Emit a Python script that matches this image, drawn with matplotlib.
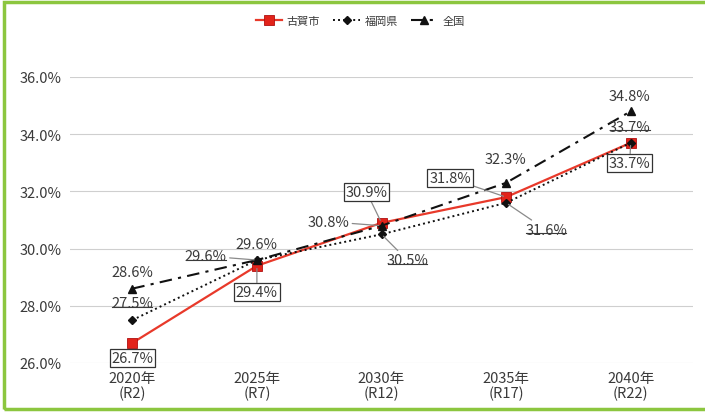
import matplotlib
matplotlib.use("Agg")
import matplotlib.pyplot as plt
from matplotlib.patches import Rectangle
from matplotlib.lines import Line2D
from matplotlib.text import Text

plt.rcParams['font.family'] = ['Noto Sans CJK JP', 'DejaVu Sans']

categories = ["2020年\n(R2)", "2025年\n(R7)", "2030年\n(R12)", "2035年\n(R17)", "2040年\n(R22)"]
koga = [26.7, 29.4, 30.9, 31.8, 33.7]
fukuoka = [27.5, 29.6, 30.5, 31.6, 33.7]
zenkoku = [28.6, 29.6, 30.8, 32.3, 34.8]
series_names = ["古賀市", "福岡県", "全国"]
yticks = [26, 28, 30, 32, 34, 36]

TXT = '#3a3a3a'
FS = 10.5
fig = plt.figure(figsize=(7.05, 4.14), dpi=100)
ax = fig.add_axes([70/705, 50/414, 623/705, 286/414])
x = list(range(len(categories)))

ax.plot(x, koga, color='#e8392a', lw=1.6, marker='s', ms=6.5, mfc='#e2231a',
        mec='#b01010', mew=0.6, label=series_names[0], zorder=3)
ax.plot(x, fukuoka, color='#111111', lw=1.4, ls=(0, (1, 1.6)), marker='D', ms=4.2,
        mfc='#111111', mec='#111111', label=series_names[1], zorder=4)
ax.plot(x, zenkoku, color='#111111', lw=1.5, ls=(0, (6, 3, 1.5, 3)), marker='^', ms=6,
        mfc='#111111', mec='#111111', label=series_names[2], zorder=5)

ax.set_xlim(-0.5, 4.5)
ax.set_ylim(26, 36)
ax.set_yticks(yticks)
ax.set_yticklabels([f"{v:.1f}%" for v in yticks])
ax.set_xticks(x)
ax.set_xticklabels(categories, linespacing=1.05)
ax.tick_params(axis='both', length=0, labelsize=FS, colors=TXT)
ax.tick_params(axis='y', pad=6)
ax.tick_params(axis='x', pad=6)
ax.grid(axis='y', color='#cfcfcf', lw=0.8)
ax.set_axisbelow(True)
for s in ax.spines.values():
    s.set_visible(False)

LEAD = dict(arrowstyle='-', color='#8a8a8a', lw=0.9, shrinkA=0, shrinkB=2)
BOX = dict(boxstyle='square,pad=0.12', fc='white', ec='#333333', lw=0.9)

# offsets in pixels (dx, dy) and whether a leader line is drawn
koga_off = [(0, -15, False), (0, -26, True), (-15, 31, True), (-56, 19, True), (-1, -20, True)]
fuku_off = [(0, 17, False), (-51, 4, True), (26, -26, True), (40, -27, True), (-1, 16, False)]
zen_off = [(0, 17, False), (0, 16, False), (-53, 4, True), (-1, 24, False), (-1, 15, False)]

for i, v in enumerate(koga):
    dx, dy, lead = koga_off[i]
    ax.annotate(f"{v:.1f}%", (i, v), xytext=(dx, dy), textcoords='offset pixels',
                ha='center', va='center', fontsize=FS, color=TXT, bbox=BOX,
                arrowprops=LEAD if lead else None, zorder=6)

under = []
for i, v in enumerate(fukuoka):
    dx, dy, lead = fuku_off[i]
    t = ax.annotate(f"{v:.1f}%", (i, v), xytext=(dx, dy), textcoords='offset pixels',
                    ha='center', va='center', fontsize=FS, color=TXT,
                    arrowprops=LEAD if lead else None, zorder=6)
    under.append(t)

for i, v in enumerate(zenkoku):
    dx, dy, lead = zen_off[i]
    ax.annotate(f"{v:.1f}%", (i, v), xytext=(dx, dy), textcoords='offset pixels',
                ha='center', va='center', fontsize=FS, color=TXT,
                arrowprops=LEAD if lead else None, zorder=6)

leg = fig.legend(loc='center', bbox_to_anchor=(360/705, 1 - 22/414), ncol=3, frameon=False,
                 fontsize=8, handlelength=2.4, columnspacing=1.2, handletextpad=0.4)
for t in leg.get_texts():
    t.set_color(TXT)

fig.canvas.draw()
r = fig.canvas.get_renderer()
for t in under:
    bb = Text.get_window_extent(t, r)
    yb = bb.y0 + 3.5
    fig.add_artist(Line2D([(bb.x0 + 1) / 705, (bb.x1 - 1) / 705], [yb / 414, yb / 414],
                          transform=fig.transFigure, color=TXT, lw=0.8))

fig.add_artist(Rectangle((4/705, 4/414), 1.0, 407/414, transform=fig.transFigure,
                         fill=False, edgecolor='#8cc63f', lw=2.5, clip_on=False))

fig.savefig("out.png", dpi=100)
